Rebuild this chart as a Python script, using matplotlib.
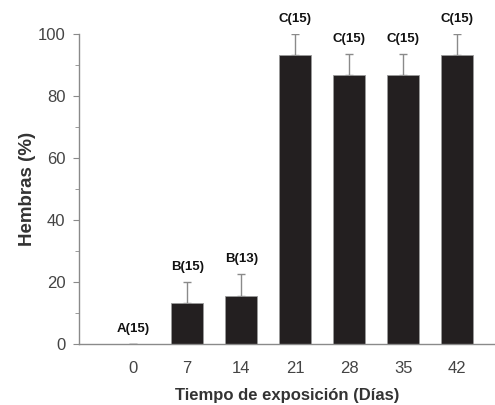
import matplotlib.pyplot as plt
import matplotlib.ticker as mticker

plt.rcParams['font.family'] = ['Liberation Sans', 'DejaVu Sans']

# datos
dias = ['0', '7', '14', '21', '28', '35', '42']
hembras = [0, 13.3, 15.4, 93.3, 86.7, 86.7, 93.3]
error = [0, 6.7, 7.2, 6.7, 6.7, 6.7, 6.7]
letras = ['A(15)', 'B(15)', 'B(13)', 'C(15)', 'C(15)', 'C(15)', 'C(15)']

fig = plt.figure(figsize=(4.95, 4.05), dpi=100)
ax = fig.add_axes([0.16, 0.151, 0.84, 0.765])

x = range(len(dias))
ax.bar(x, hembras, width=0.6, color='#231f20', edgecolor='#9a9a9a', linewidth=0.6, zorder=2)
ax.errorbar(x, hembras, yerr=[[0] * len(error), error], fmt='none',
            ecolor='#8a8a8a', elinewidth=1, capsize=3, capthick=1, zorder=1)

# letras encima de las barras
for i, (h, e, t) in enumerate(zip(hembras, error, letras)):
    ax.annotate(t, (i, h + e), xytext=(0, 11), textcoords='offset points',
                ha='center', va='center', fontsize=9.5, fontweight='bold', color='#111111')

ax.set_xlim(-1.0, 6.7)
ax.set_ylim(0, 100)
ax.set_xticks(list(x))
ax.set_xticklabels(dias)
ax.yaxis.set_major_locator(mticker.MultipleLocator(20))
ax.yaxis.set_minor_locator(mticker.MultipleLocator(10))

for s in ['top', 'right']:
    ax.spines[s].set_visible(False)
for s in ['left', 'bottom']:
    ax.spines[s].set_color('#8a8a8a')
    ax.spines[s].set_linewidth(1)

ax.tick_params(axis='x', length=0, pad=12, labelsize=12, labelcolor='#444444')
ax.tick_params(axis='y', which='major', length=4, color='#8a8a8a', labelsize=12,
               labelcolor='#444444', pad=6)
ax.tick_params(axis='y', which='minor', length=3, color='#8a8a8a')

ax.set_ylabel('Hembras (%)', fontsize=13.5, fontweight='bold', color='#333333', labelpad=1)
ax.set_xlabel('Tiempo de exposición (Días)', fontsize=12, fontweight='bold', color='#333333', labelpad=9)

plt.savefig('out.png', dpi=100)
